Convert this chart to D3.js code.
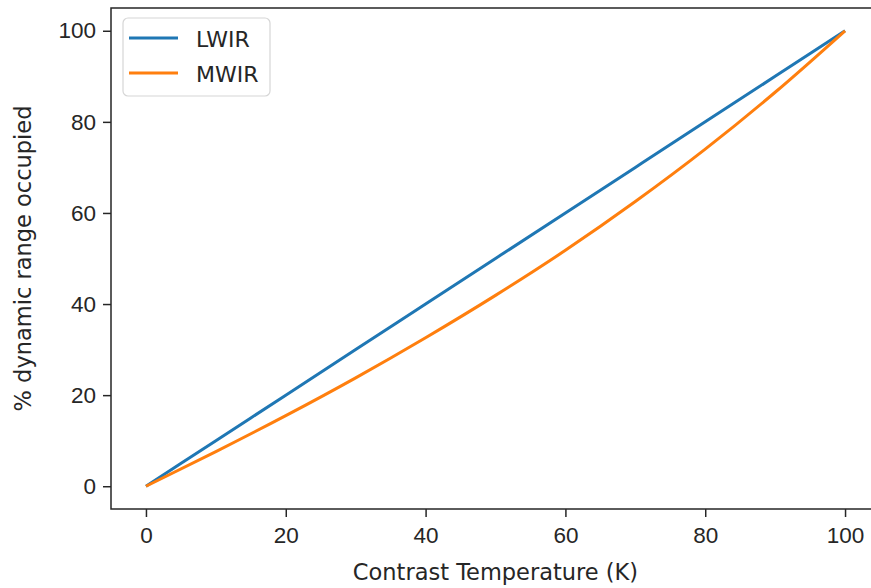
<!DOCTYPE html>
<html>
<head>
<meta charset="utf-8">
<script src="https://cdn.jsdelivr.net/npm/d3@7"></script>
<style>
  body { margin: 0; background: #fff; }
  svg { display: block; font-family: "DejaVu Sans", sans-serif; }
  .tick text { font-size: 22.5px; fill: #262626; }
</style>
</head>
<body>
<svg id="chart" width="871" height="588"></svg>
<script>
// Contrast temperature (K)
const temps = [0, 10, 20, 30, 40, 50, 60, 70, 80, 90, 100];
// % dynamic range occupied
const lwirValues = [0, 10, 20, 30, 40, 50, 60, 70, 80, 90, 100];
const mwirValues = [0, 7.6, 15.5, 23.8, 32.6, 41.9, 51.8, 62.5, 74.0, 86.5, 100];
const xTicks = [0, 20, 40, 60, 80, 100];
const yTicks = [0, 20, 40, 60, 80, 100];

const series = [
  { name: 'LWIR', color: '#1f77b4', values: lwirValues },
  { name: 'MWIR', color: '#ff7f0e', values: mwirValues }
];

// axes box (right side runs past the window edge, like the original)
const margin = { left: 111, top: 8, right: 880, bottom: 509 };

const svg = d3.select('#chart');

const x = d3.scaleLinear().domain([-5, 105]).range([margin.left, margin.right]);
const y = d3.scaleLinear().domain([-5, 105]).range([margin.bottom, margin.top]);

const line = d3.line()
  .x((d, i) => x(temps[i]))
  .y(d => y(d))
  .curve(d3.curveMonotoneX);

// lines
series.forEach(s => {
  svg.append('path')
    .datum(s.values)
    .attr('fill', 'none')
    .attr('stroke', s.color)
    .attr('stroke-width', 3)
    .attr('d', line);
});

// axes
const xAxis = svg.append('g')
  .attr('transform', `translate(0,${margin.bottom})`)
  .call(d3.axisBottom(x).tickValues(xTicks).tickSize(8).tickPadding(10).tickFormat(d3.format('d')));
const yAxis = svg.append('g')
  .attr('transform', `translate(${margin.left},0)`)
  .call(d3.axisLeft(y).tickValues(yTicks).tickSize(8).tickPadding(7).tickFormat(d3.format('d')));

[xAxis, yAxis].forEach(g => {
  g.select('.domain').remove();
  g.selectAll('.tick line').attr('stroke', '#262626').attr('stroke-width', 1.5);
});

// spines
svg.append('rect')
  .attr('x', margin.left)
  .attr('y', margin.top)
  .attr('width', margin.right - margin.left)
  .attr('height', margin.bottom - margin.top)
  .attr('fill', 'none')
  .attr('stroke', '#262626')
  .attr('stroke-width', 1.5);

// axis labels
svg.append('text')
  .attr('x', (margin.left + margin.right) / 2)
  .attr('y', 580)
  .attr('text-anchor', 'middle')
  .attr('font-size', 22.5)
  .attr('fill', '#262626')
  .text('Contrast Temperature (K)');

svg.append('text')
  .attr('transform', `translate(31,${(margin.top + margin.bottom) / 2}) rotate(-90)`)
  .attr('text-anchor', 'middle')
  .attr('font-size', 22.5)
  .attr('fill', '#262626')
  .text('% dynamic range occupied');

// legend
const legend = svg.append('g').attr('transform', 'translate(123,18)');
legend.append('rect')
  .attr('width', 147)
  .attr('height', 78)
  .attr('rx', 5)
  .attr('fill', '#fff')
  .attr('fill-opacity', 0.8)
  .attr('stroke', '#d6d6d6')
  .attr('stroke-width', 1.2);

series.forEach((s, i) => {
  const yy = 20 + i * 35;
  legend.append('line')
    .attr('x1', 6).attr('x2', 55)
    .attr('y1', yy).attr('y2', yy)
    .attr('stroke', s.color)
    .attr('stroke-width', 3);
  legend.append('text')
    .attr('x', 73)
    .attr('y', yy + 9)
    .attr('font-size', 22)
    .attr('fill', '#262626')
    .text(s.name);
});
</script>
</body>
</html>
